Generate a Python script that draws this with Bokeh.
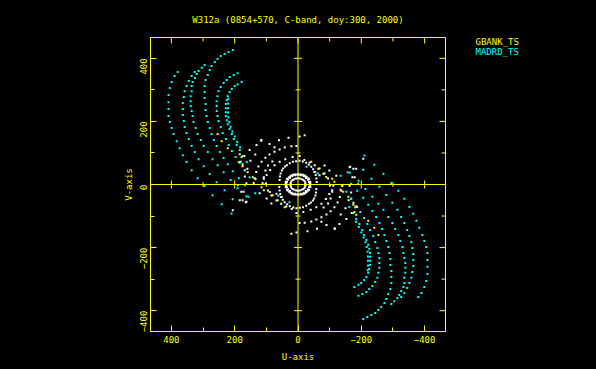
import math
import numpy as np
from bokeh.plotting import figure
from bokeh.layouts import row
from bokeh.models import Range1d, LinearAxis, FixedTicker, Span
from bokeh.core.properties import value
from bokeh.embed import file_html
from bokeh.resources import INLINE

TITLE = "W312a (0854+570, C-band, doy:300, 2000)"
X_LABEL = "U-axis"
Y_LABEL = "V-axis"
SERIES_NAMES = ["GBANK_TS", "MADRD_TS"]
MAJOR_TICKS = [-400, -200, 0, 200, 400]
MINOR_TICKS = [-400, -300, -200, -100, 0, 100, 200, 300, 400]
AXIS_LIMIT = 466

# ---- MADRD_TS (cyan): one half of the track; conjugate points (-u,-v) added below
madrd_arc1_u = [380, 390, 399, 405, 409, 409, 409, 409, 405, 399, 393, 383, 374, 364, 352, 336, 317, 295, 270, 241, 210]
madrd_arc1_v = [357, 344, 325, 306, 284, 261, 239, 217, 198, 179, 160, 137, 115, 93, 71, 45, 20, -5, -34, -63, -92]
madrd_arc2_u = [326, 336, 345, 352, 358, 361, 364, 364, 364, 361, 358, 352, 345, 336, 326, 314, 298, 279, 257, 232, 206]
madrd_arc2_v = [357, 344, 328, 312, 296, 277, 258, 239, 220, 201, 182, 163, 144, 122, 103, 80, 58, 33, 7, -18, -47]
madrd_arc3_u = [295, 304, 314, 320, 326, 333, 336, 336, 339, 339, 339, 336, 333, 330, 323, 317, 307, 298, 285, 270, 254, 235, 213, 191]
madrd_arc3_v = [379, 370, 360, 350, 338, 325, 312, 296, 280, 264, 249, 233, 217, 198, 179, 160, 141, 122, 103, 80, 61, 39, 14, -12]
madrd_arc4_u = [206, 219, 232, 244, 254, 263, 273, 279, 285, 292, 295, 295, 295, 292, 292, 289, 285, 279, 273, 266, 257, 247, 235, 222, 206, 187, 168]
madrd_arc4_v = [426, 420, 414, 407, 398, 388, 376, 363, 347, 331, 312, 293, 274, 255, 236, 217, 198, 179, 160, 141, 122, 103, 84, 64, 42, 20, -2]
madrd_arc5_u = [191, 203, 216, 225, 235, 244, 251, 254, 257, 257, 257, 254, 251, 244, 238, 228, 219, 209, 197, 184, 168, 153]
madrd_arc5_v = [353, 347, 341, 331, 322, 309, 296, 280, 264, 249, 233, 217, 201, 182, 163, 144, 125, 106, 87, 68, 45, 23]
madrd_arc6_u = [178, 191, 200, 209, 216, 222, 225, 228, 228, 228, 228, 225, 222, 216, 209, 203, 194, 184, 175, 162]
madrd_arc6_v = [325, 318, 312, 303, 293, 280, 268, 255, 242, 229, 217, 204, 191, 176, 160, 144, 125, 109, 90, 71]
madrd_arc7_u = [220, 221, 221, 221, 220, 217, 213, 207, 200, 192, 183]
madrd_arc7_v = [272, 257, 242, 228, 213, 198, 183, 168, 152, 135, 118]
madrd_extra_u = [190, 163, 135, 157, 62, 27]
madrd_extra_v = [-2, -37, -28, -39, -36, -56]

# ---- GBANK_TS (yellow), one half
gbank_u = [254, 241, 222, 184, 178, 187, 175, 159, 143, 134, 115, 108, 89, 80, 64, 42]
gbank_v = [160, 137, 115, 96, 87, 71, 64, 39, 23, 17, -9, -18, -24, -34, -50, -72]

# ---- other baselines (white), one half
other_ring1_u = [24, 23, 21, 17, 12, 6, 0, -6, -12, -17, -21, -23]
other_ring1_v = [0, 5, 10, 14, 17, 19, 20, 19, 17, 14, 10, 5]
other_ring2_u = [40, 39, 35, 28, 20, 10, 0, -10, -20, -28, -35, -39, 36, 35, 31, 25, 18, 9, 0, -9, -18, -25, -31, -35, 38, 33, 24, 15, 5, -5, -15, -24, -33, -38]
other_ring2_v = [0, 9, 17, 23, 29, 32, 33, 32, 29, 23, 17, 9, 0, 8, 15, 21, 26, 29, 30, 29, 26, 21, 15, 8, 5, 19, 26, 31, 32, 32, 31, 26, 19, 5]
other_ring3_u = [58, 57, 55, 51, 47, 41, 35, 26, 16, 6, -5, -15, -26, -34, -42, -48, -53, -56, -58, -59]
other_ring3_v = [14, 25, 35, 44, 51, 57, 61, 67, 72, 74, 75, 73, 69, 63, 56, 48, 40, 30, 19, 8]
other_ring4_u = [112, 108, 99, 88, 74, 58, 40, 17, -5, -20, -37, -53, -68, -84, -95, -102, -108, -103, -95, -81]
other_ring4_v = [4, 18, 30, 46, 61, 72, 80, 87, 90, 78, 70, 61, 51, 35, 19, -2, -23, -44, -60, -73]
other_ring5_u = [140, 137, 132, 125, 115, 103, 90, 74, 58, 42, 21, 5]
other_ring5_v = [5, 20, 40, 57, 72, 85, 95, 104, 111, 117, 121, 122]
other_ring6_u = [116, 131, 153, 170, 181, 175, 168]
other_ring6_v = [141, 125, 109, 90, 72, 58, 45]
other_ring7_u = [-5, 30, 60, 90, 116, 135, 150, 160, 163, 168, 172, 175]
other_ring7_v = [152, 148, 140, 128, 139, 95, 75, 50, 4, 25, -23, -50]
other_extra_u = [206, 184, 165, 121, 99, 52, 74, -21, 179, 163, 84, 68]
other_extra_v = [-82, -50, -56, -28, -44, -40, 118, 156, -23, -55, -60, -29]

YELLOW = "#ffff00"
CYAN = "#00ffff"
WHITE = "#ffffff"
FONT = "DejaVu Sans Mono"
MAJOR_LEN = 19   # inner tick lengths on the frame, in axis units (~6 px)
MINOR_LEN = 12.5


def with_conjugate(us, vs):
    u = np.concatenate([np.asarray(a, float) for a in us])
    v = np.concatenate([np.asarray(a, float) for a in vs])
    return np.concatenate([u, -u]), np.concatenate([v, -v])


madrd_u, madrd_v = with_conjugate(
    [madrd_arc1_u, madrd_arc2_u, madrd_arc3_u, madrd_arc4_u, madrd_arc5_u, madrd_arc6_u, madrd_arc7_u, madrd_extra_u],
    [madrd_arc1_v, madrd_arc2_v, madrd_arc3_v, madrd_arc4_v, madrd_arc5_v, madrd_arc6_v, madrd_arc7_v, madrd_extra_v])
gb_u, gb_v = with_conjugate([gbank_u], [gbank_v])
oth_u, oth_v = with_conjugate(
    [other_ring1_u, other_ring2_u, other_ring3_u, other_ring4_u, other_ring5_u, other_ring6_u, other_ring7_u, other_extra_u],
    [other_ring1_v, other_ring2_v, other_ring3_v, other_ring4_v, other_ring5_v, other_ring6_v, other_ring7_v, other_extra_v])

p = figure(frame_width=295, frame_height=294,
           x_range=Range1d(AXIS_LIMIT, -AXIS_LIMIT), y_range=Range1d(-AXIS_LIMIT, AXIS_LIMIT),
           output_backend="svg", toolbar_location=None,
           min_border_left=150, min_border_right=1, min_border_top=37, min_border_bottom=38,
           background_fill_color="black", border_fill_color="black",
           outline_line_color=YELLOW, x_axis_location=None, y_axis_location=None)
p.xgrid.visible = False
p.ygrid.visible = False

p.title.text = TITLE
p.title.align = "center"
p.title.text_color = YELLOW
p.title.text_font = FONT
p.title.text_font_size = "9px"
p.title.text_font_style = "normal"
p.title.offset = 0
p.title.standoff = 25


def make_axis():
    ax = LinearAxis(ticker=FixedTicker(ticks=MAJOR_TICKS, minor_ticks=MINOR_TICKS))
    ax.axis_line_color = YELLOW
    ax.major_tick_line_color = YELLOW
    ax.minor_tick_line_color = YELLOW
    ax.major_tick_in = 6
    ax.major_tick_out = 0
    ax.minor_tick_in = 4
    ax.minor_tick_out = 0
    ax.major_label_text_color = YELLOW
    ax.major_label_text_font = FONT
    ax.major_label_text_font_size = "9px"
    ax.axis_label_text_color = YELLOW
    ax.axis_label_text_font = FONT
    ax.axis_label_text_font_size = "9px"
    ax.axis_label_text_font_style = "normal"
    return ax


xb = make_axis()
xb.axis_label = X_LABEL
xb.major_label_standoff = 4
xb.axis_label_standoff = 6
p.add_layout(xb, "below")
yl = make_axis()
yl.axis_label = Y_LABEL
yl.major_label_orientation = math.pi / 2
yl.major_label_standoff = 7
yl.axis_label_standoff = 0
p.add_layout(yl, "left")

# inner ticks on the top and right edges of the frame
ticks = np.array(MAJOR_TICKS, float)
mticks = np.array([t for t in MINOR_TICKS if t not in MAJOR_TICKS], float)
lim = float(AXIS_LIMIT)
for tk, ln in ((ticks, MAJOR_LEN), (mticks, MINOR_LEN)):
    p.segment(x0=tk, y0=np.full_like(tk, lim), x1=tk, y1=np.full_like(tk, lim - ln), line_color=YELLOW, line_width=1)
    p.segment(x0=np.full_like(tk, -lim), y0=tk, x1=np.full_like(tk, -lim + ln), y1=tk, line_color=YELLOW, line_width=1)

p.add_layout(Span(location=0, dimension="height", line_color=YELLOW, line_width=1))
p.add_layout(Span(location=0, dimension="width", line_color=YELLOW, line_width=1))

major_nz = [t for t in MAJOR_TICKS if t != 0]
minor_nz = [t for t in MINOR_TICKS if t not in MAJOR_TICKS]
p.scatter(major_nz, [0] * len(major_nz), marker="dash", angle=math.pi / 2, size=8, line_color=YELLOW)
p.scatter(minor_nz, [0] * len(minor_nz), marker="dash", angle=math.pi / 2, size=5, line_color=YELLOW)
p.scatter([0] * len(major_nz), major_nz, marker="dash", size=8, line_color=YELLOW)
p.scatter([0] * len(minor_nz), minor_nz, marker="dash", size=5, line_color=YELLOW)

p.scatter(oth_u, oth_v, marker="square", size=2, fill_color=WHITE, line_color=None)
p.scatter(madrd_u, madrd_v, marker="square", size=2, fill_color=CYAN, line_color=None)
p.scatter(gb_u, gb_v, marker="square", size=2, fill_color=YELLOW, line_color=None)

# key panel to the right of the plot (series names in their colours);
# its frame is aligned with the main frame, so its y range spans the frame's pixel rows
key = figure(width=150, height=369, x_range=Range1d(0, 150), y_range=Range1d(331, 37),
             output_backend="svg", toolbar_location=None, min_border=0,
             background_fill_color="black", border_fill_color="black",
             outline_line_color=None, x_axis_location=None, y_axis_location=None)
key.xgrid.visible = False
key.ygrid.visible = False
key.text(x=[29, 29], y=[41, 51], text=SERIES_NAMES, text_color=[YELLOW, CYAN],
         text_font=value(FONT), text_font_size="9px", text_baseline="middle", text_align="left")

layout = row(p, key, spacing=0, styles={"background-color": "#000000"})

html = file_html(layout, INLINE)
html = html.replace("</head>", "<style>html, body { background-color: #000000 !important; }</style></head>", 1)
open("out.html", "w").write(html)
